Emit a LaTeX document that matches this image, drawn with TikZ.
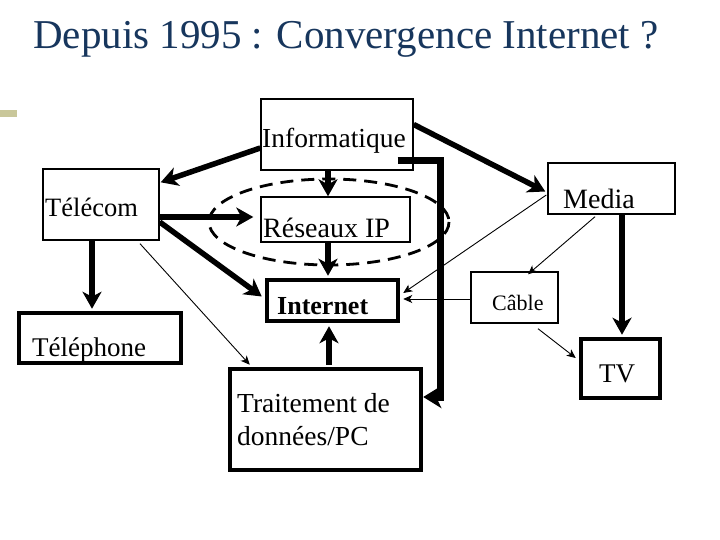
\documentclass[tikz,border=0pt]{standalone}
\usepackage{fontspec}
\setmainfont{Liberation Serif}
\usetikzlibrary{arrows.meta,calc}
\definecolor{titleblue}{HTML}{17365D}
\definecolor{bulletolive}{HTML}{C9C79A}
\tikzset{
  box/.style={draw=black, line width=1.4pt, inner sep=0pt, rectangle},
  thickbox/.style={draw=black, line width=4.5pt, inner sep=0pt, rectangle},
  lbl/.style={anchor=base west, inner sep=0pt, text=black},
  bigarrow/.style={line width=5.5pt, -{Stealth[length=17pt,width=19pt,inset=5pt]}},
  thinarrow/.style={line width=0.9pt, -{Stealth[length=9pt,width=8pt,inset=2.5pt]}},
}
\newcommand{\fsz}[1]{\fontsize{#1}{#1}\selectfont}
\begin{document}
\begin{tikzpicture}[x=1pt,y=-1pt]
\useasboundingbox[fill=white] (0,0) rectangle (720,540);
% title
\node[anchor=base west, inner sep=0pt, text=titleblue] (title) at (33,49) {\fsz{41}Depuis 1995 : Convergence Internet ?};
% bullet
\fill[bulletolive] (0,110) rectangle (17,117);
% dashed ellipse
\draw[dashed, dash pattern=on 13pt off 8pt, line width=2.8pt] (329,222) ellipse [x radius=120, y radius=43];
% boxes
\node[box, minimum width=152pt, minimum height=71pt] (inf) at (337,134.5) {};
\node[box, minimum width=116pt, minimum height=71pt] (tel) at (101,204.5) {};
\node[box, minimum width=149pt, minimum height=45pt] (rip) at (335.5,219.5) {};
\node[thickbox, minimum width=131pt, minimum height=41pt] (int) at (332.5,300.5) {};
\node[thickbox, minimum width=162pt, minimum height=50pt] (tph) at (100,338) {};
\node[thickbox, minimum width=191pt, minimum height=101pt] (tdp) at (325.5,419.5) {};
\node[box, minimum width=127pt, minimum height=51pt] (med) at (611.5,188.5) {};
\node[box, minimum width=87pt, minimum height=51pt] (cab) at (514.5,297.5) {};
\node[thickbox, minimum width=79pt, minimum height=59pt] (tv) at (620.5,368.5) {};
% labels
\node[lbl] (tinf) at (262,148) {\fsz{27.5}Informatique};
\node[lbl] (ttel) at (45,217) {\fsz{26.5}Télécom};
\node[lbl] (trip) at (263,237) {\fsz{28}Réseaux IP};
\node[lbl] (tint) at (277,314) {\fsz{26}\bfseries Internet};
\node[lbl] (ttph) at (32,356) {\fsz{27}Téléphone};
\node[lbl] (ttdp1) at (237,412) {\fsz{27.5}Traitement de};
\node[lbl] (ttdp2) at (237,445) {\fsz{27.5}données/PC};
\node[lbl] (tmed) at (563,208) {\fsz{28}Media};
\node[lbl] (tcab) at (492,310) {\fsz{22}Câble};
\node[lbl] (ttv) at (599,382) {\fsz{27}TV};
% thick arrows
\draw[bigarrow] ($(inf.west)+(0,13.5)$) -- ($(tel.north east)+(1,14)$);
\draw[bigarrow] ($(inf.south)+(-9,0)$) -- ($(rip.north)+(-7.5,0)$);
\draw[bigarrow] ($(inf.east)+(0,-10)$) -- ($(med.west)+(-2,3)$);
\draw[bigarrow, line width=7.5pt, -{Stealth[length=18pt,width=22pt,inset=5pt]}] ($(inf.south east)+(-16,-10)$) -- ++(43,0) |- ($(tdp.east)+(0,-22.5)$);
\draw[bigarrow] ($(tel.east)+(0,12.5)$) -- ($(rip.west)+(-7,-2.5)$);
\draw[bigarrow] ($(tel.east)+(0,17.5)$) -- ($(int.west)+(-3,-4)$);
\draw[bigarrow] ($(tel.south)+(-9,0)$) -- ($(tph.north)+(-8,-2)$);
\draw[bigarrow] ($(rip.south)+(-7.5,0)$) -- ($(int.north)+(-4.5,-2)$);
\draw[bigarrow] ($(tdp.north)+(3.5,-2)$) -- ($(int.south)+(-3.5,3)$);
\draw[bigarrow] ($(med.south)+(10.5,0)$) -- ($(tv.north)+(1.5,-2)$);
% thin arrows
\draw[thinarrow] ($(tel.south)+(39,3)$) -- ($(tdp.north west)+(22,-2)$);
\draw[thinarrow] ($(med.west)+(-1,6.5)$) -- ($(int.east)+(3,-7.5)$);
\draw[thinarrow] ($(med.south)+(-16.5,2)$) -- ($(cab.north)+(13.5,3)$);
\draw[thinarrow] ($(cab.west)+(0,1.5)$) -- ($(int.east)+(3,-1.5)$);
\draw[thinarrow] ($(cab.south)+(23.5,5)$) -- ($(tv.west)+(-3,-10.5)$);
\end{tikzpicture}
\end{document}
